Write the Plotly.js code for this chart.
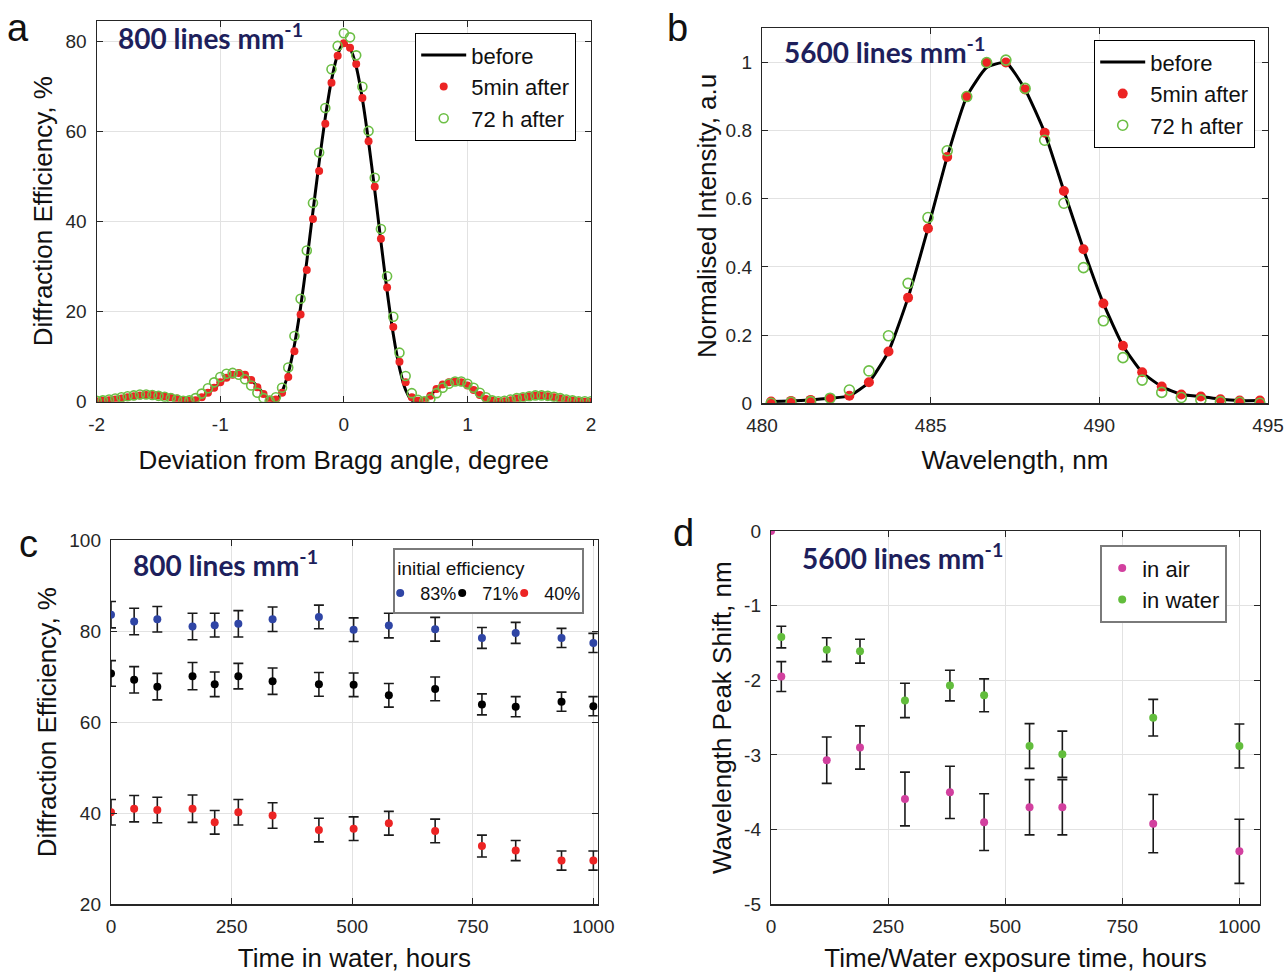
<!DOCTYPE html>
<html>
<head>
<meta charset="utf-8">
<script src="https://cdn.plot.ly/plotly-3.0.1.min.js"></script>
<style>
  html, body { margin: 0; padding: 0; background: #fff; }
  #chart { width: 1288px; height: 976px; }
</style>
</head>
<body>
<div id="chart"></div>
<script>
// ---------- Panel a: diffraction efficiency vs deviation from Bragg angle ----------
const angleDeg = [
  -2.00,-1.95,-1.90,-1.85,-1.80,-1.75,-1.70,-1.65,-1.60,-1.55,-1.50,-1.45,-1.40,-1.35,-1.30,-1.25,
  -1.20,-1.15,-1.10,-1.05,-1.00,-0.95,-0.90,-0.85,-0.80,-0.75,-0.70,-0.65,-0.60,-0.55,-0.50,-0.45,
  -0.40,-0.35,-0.30,-0.25,-0.20,-0.15,-0.10,-0.05,0.00,0.05,0.10,0.15,0.20,0.25,0.30,0.35,
  0.40,0.45,0.50,0.55,0.60,0.65,0.70,0.75,0.80,0.85,0.90,0.95,1.00,1.05,1.10,1.15,
  1.20,1.25,1.30,1.35,1.40,1.45,1.50,1.55,1.60,1.65,1.70,1.75,1.80,1.85,1.90,1.95,2.00
];
const effBefore = [
  0.1,0.2,0.3,0.5,0.7,0.9,1.1,1.3,1.4,1.4,1.3,1.1,0.9,0.6,0.3,0.1,
  0.3,0.9,1.9,3.0,4.2,5.2,5.9,6.2,5.9,4.9,3.4,1.8,0.5,0.3,2.3,6.3,
  12.6,21.0,31.2,42.3,53.2,63.2,71.5,77.2,79.8,78.6,74.5,67.3,57.8,47.0,35.6,24.6,
  15.0,7.5,2.6,0.3,0.1,0.5,1.5,2.7,3.7,4.3,4.4,4.1,3.4,2.5,1.5,0.7,
  0.2,0.0,0.1,0.3,0.6,0.9,1.1,1.2,1.2,1.1,0.9,0.6,0.4,0.2,0.1,0.0,0.0
];
const eff5min = [
  0.1,0.2,0.3,0.5,0.7,1.0,1.2,1.4,1.5,1.5,1.4,1.2,1.0,0.7,0.4,0.2,
  0.3,1.0,2.0,3.1,4.3,5.3,6.0,6.4,6.0,4.8,3.2,1.7,0.5,0.5,2.0,5.5,
  11.2,19.4,29.3,40.6,51.3,61.8,70.9,76.9,79.7,78.7,75.1,67.5,57.9,47.8,36.2,25.4,
  16.6,8.9,4.3,1.0,0.2,0.2,1.3,2.8,3.8,4.3,4.5,4.3,3.6,2.6,1.5,0.6,
  0.2,0.0,0.1,0.3,0.7,1.0,1.2,1.3,1.3,1.2,1.0,0.7,0.4,0.2,0.1,0.0,0.0
];
const eff72h = [
  0.2,0.3,0.5,0.7,1.0,1.2,1.4,1.6,1.6,1.5,1.3,1.1,0.8,0.5,0.2,0.3,
  0.8,1.8,3.0,4.3,5.5,6.2,6.4,6.0,5.0,3.6,2.0,0.8,0.2,1.0,3.1,7.6,
  14.6,22.9,33.6,44.2,55.4,65.3,73.9,79.1,81.9,81.0,77.0,70.0,60.2,49.8,38.4,27.9,
  18.9,10.9,5.7,1.9,0.4,0.1,0.6,1.9,3.1,4.0,4.5,4.5,4.0,3.1,2.0,1.0,
  0.3,0.1,0.2,0.5,0.8,1.0,1.2,1.4,1.4,1.3,1.1,0.8,0.5,0.3,0.1,0.1,0.1
];
const aTickVals = [-2, -1, 0, 1, 2];
const aTickText = ['-2', '-1', '0', '1', '2'];

// ---------- Panel b: normalised intensity vs wavelength ----------
const wavelengthNm = [
  480.27,480.86,481.44,482.02,482.59,483.17,483.75,484.33,484.92,485.49,486.07,486.66,487.23,
  487.80,488.38,488.95,489.53,490.12,490.70,491.27,491.85,492.43,493.01,493.59,494.16,494.76
];
const intBefore = [
  0.005,0.007,0.010,0.015,0.022,0.062,0.152,0.310,0.513,0.723,0.900,0.985,1.000,
  0.921,0.794,0.623,0.452,0.293,0.169,0.091,0.049,0.026,0.020,0.012,0.008,0.008
];
const int5min = [
  0.005,0.007,0.010,0.015,0.022,0.062,0.152,0.310,0.513,0.723,0.900,0.999,1.000,
  0.921,0.794,0.623,0.452,0.293,0.169,0.091,0.049,0.026,0.020,0.012,0.008,0.008
];
const int72h = [
  0.000,0.003,0.005,0.015,0.039,0.095,0.198,0.352,0.545,0.741,0.900,1.000,1.007,
  0.924,0.772,0.587,0.398,0.242,0.134,0.068,0.032,0.017,0.010,0.005,0.003,0.000
];

// ---------- Panel c: diffraction efficiency vs time in water ----------
const timeC = [0, 48, 96, 169, 215, 264, 335, 431, 503, 576, 672, 769, 839, 934, 1000];
const eff83 = [83.6,82.1,82.6,81.0,81.3,81.6,82.6,83.1,80.3,81.2,80.4,78.5,79.6,78.5,77.4];
const err83 = [2.9,2.9,2.8,2.9,2.6,2.9,2.7,2.6,2.6,2.7,2.6,2.3,2.3,2.1,2.1];
const eff71 = [70.7,69.3,67.8,70.1,68.3,70.1,69.0,68.3,68.2,65.9,67.3,63.9,63.4,64.5,63.5];
const err71 = [2.8,2.9,2.9,3.0,2.7,2.8,2.9,2.6,2.6,2.6,2.6,2.3,2.2,2.1,2.1];
const eff40 = [40.2,41.0,40.7,41.0,38.0,40.2,39.5,36.3,36.6,37.8,36.1,32.8,31.8,29.6,29.6];
const err40 = [2.8,2.9,2.8,3.0,2.6,2.8,2.8,2.6,2.6,2.6,2.6,2.4,2.2,2.1,2.1];

// ---------- Panel d: wavelength peak shift vs exposure time ----------
const timeAir = [0, 22, 119, 190, 286, 382, 455, 552, 622, 816, 1000];
const shiftAir = [0, -1.95, -3.07, -2.90, -3.59, -3.50, -3.90, -3.70, -3.70, -3.92, -4.29];
const errAir = [NaN, 0.20, 0.31, 0.29, 0.36, 0.35, 0.38, 0.37, 0.37, 0.39, 0.43];
const timeWater = [22, 119, 190, 286, 382, 455, 552, 622, 816, 1000];
const shiftWater = [-1.42, -1.59, -1.61, -2.27, -2.07, -2.20, -2.88, -2.99, -2.50, -2.88];
const errWater = [0.145, 0.16, 0.16, 0.23, 0.205, 0.22, 0.30, 0.31, 0.245, 0.295];
const dTickVals = [-5, -4, -3, -2, -1, 0];
const dTickText = ['-5', '-4', '-3', '-2', '-1', '0'];

// ---------- styling ----------
const FONT = 'Liberation Sans, Arial, Helvetica, sans-serif';
const NOTE_FONT = 'Lato, Open Sans, sans-serif';
const RED = '#ec2424';
const GREEN = '#6cbf45';
const BLUE = '#2f45a5';
const MAGENTA = '#d2409f';
const WGREEN = '#62bd3c';
const NAVY = '#1e1f5c';
const W = 1288, H = 976;
const px = v => v / W;
const py = v => 1 - v / H;

function axisStyle(extra) {
  return Object.assign({
    showline: true, linecolor: '#262626', linewidth: 1.2, mirror: 'ticks',
    ticks: 'inside', ticklen: 6, tickwidth: 1, tickcolor: '#262626',
    showgrid: true, gridcolor: '#e2e2e2', gridwidth: 1, zeroline: false,
    tickfont: { family: FONT, size: 19, color: '#262626' },
    ticklabelstandoff: 5,
    fixedrange: true
  }, extra);
}
function ttl(text, standoff) {
  return { text: text, font: { family: FONT, size: 26, color: '#111' }, standoff: standoff };
}

const errStyle = arr => ({ type: 'data', array: arr, visible: true, color: '#1a1a1a', thickness: 1.6, width: 5 });

const traces = [
  // panel a
  { x: angleDeg, y: effBefore, xaxis: 'x', yaxis: 'y', type: 'scatter', mode: 'lines',
    name: 'before', line: { color: '#000', width: 3, shape: 'spline', smoothing: 0.6 }, legend: 'legend' },
  { x: angleDeg, y: eff5min, xaxis: 'x', yaxis: 'y', type: 'scatter', mode: 'markers',
    name: '5min after', marker: { color: RED, size: 8 }, legend: 'legend' },
  { x: angleDeg, y: eff72h, xaxis: 'x', yaxis: 'y', type: 'scatter', mode: 'markers',
    name: '72 h after', marker: { symbol: 'circle-open', color: GREEN, size: 9, line: { width: 1.6, color: GREEN } }, legend: 'legend' },
  // panel b
  { x: wavelengthNm, y: intBefore, xaxis: 'x2', yaxis: 'y2', type: 'scatter', mode: 'lines',
    name: 'before', line: { color: '#000', width: 3, shape: 'spline', smoothing: 0.5 }, legend: 'legend2' },
  { x: wavelengthNm, y: int5min, xaxis: 'x2', yaxis: 'y2', type: 'scatter', mode: 'markers',
    name: '5min after', marker: { color: RED, size: 10 }, legend: 'legend2' },
  { x: wavelengthNm, y: int72h, xaxis: 'x2', yaxis: 'y2', type: 'scatter', mode: 'markers',
    name: '72 h after', marker: { symbol: 'circle-open', color: GREEN, size: 10, line: { width: 1.6, color: GREEN } }, legend: 'legend2' },
  // panel c
  { x: timeC, y: eff83, error_y: errStyle(err83), xaxis: 'x3', yaxis: 'y3', type: 'scatter', mode: 'markers',
    name: '83%', marker: { color: BLUE, size: 8 }, legend: 'legend3' },
  { x: timeC, y: eff71, error_y: errStyle(err71), xaxis: 'x3', yaxis: 'y3', type: 'scatter', mode: 'markers',
    name: '71%', marker: { color: '#000', size: 8 }, legend: 'legend3' },
  { x: timeC, y: eff40, error_y: errStyle(err40), xaxis: 'x3', yaxis: 'y3', type: 'scatter', mode: 'markers',
    name: '40%', marker: { color: RED, size: 8 }, legend: 'legend3' },
  // panel d
  { x: timeAir, y: shiftAir, error_y: errStyle(errAir), xaxis: 'x4', yaxis: 'y4', type: 'scatter', mode: 'markers',
    name: 'in air', marker: { color: MAGENTA, size: 8 }, legend: 'legend4' },
  { x: timeWater, y: shiftWater, error_y: errStyle(errWater), xaxis: 'x4', yaxis: 'y4', type: 'scatter', mode: 'markers',
    name: 'in water', marker: { color: WGREEN, size: 8 }, legend: 'legend4' }
];

const legendBase = {
  bgcolor: '#fff', bordercolor: '#000', borderwidth: 1.2,
  font: { family: FONT, size: 22, color: '#111' },
  xanchor: 'left', yanchor: 'top', tracegroupgap: 0
};

const layout = {
  width: W, height: H,
  margin: { l: 0, r: 0, t: 0, b: 0 },
  paper_bgcolor: '#fff', plot_bgcolor: '#fff',
  font: { family: FONT, color: '#111' },
  showlegend: true,
  xaxis: axisStyle({ domain: [px(96.7), px(591)], range: [-2, 2], anchor: 'y',
    tickvals: aTickVals, ticktext: aTickText, title: ttl('Deviation from Bragg angle, degree', 17) }),
  yaxis: axisStyle({ domain: [py(401.7), py(20.7)], range: [0, 84.7], anchor: 'x', dtick: 20,
    title: ttl('Diffraction Efficiency, %', 5) }),
  xaxis2: axisStyle({ domain: [px(762), px(1268)], range: [480, 495], anchor: 'y2', dtick: 5,
    title: ttl('Wavelength, nm', 15) }),
  yaxis2: axisStyle({ domain: [py(403.3), py(28.4)], range: [0, 1.1], anchor: 'x2', dtick: 0.2,
    title: ttl('Normalised Intensity, a.u', 1) }),
  xaxis3: axisStyle({ domain: [px(111), px(597.7)], range: [0, 1009], anchor: 'y3', dtick: 250,
    title: ttl('Time in water, hours', 12) }),
  yaxis3: axisStyle({ domain: [py(904.3), py(540)], range: [20, 100], anchor: 'x3', dtick: 20,
    title: ttl('Diffraction Efficiency, %', 5) }),
  xaxis4: axisStyle({ domain: [px(771), px(1260)], range: [0, 1044], anchor: 'y4', dtick: 250,
    title: ttl('Time/Water exposure time, hours', 12) }),
  yaxis4: axisStyle({ domain: [py(904.3), py(531)], range: [-5, 0], anchor: 'x4',
    tickvals: dTickVals, ticktext: dTickText, title: ttl('Wavelength Peak Shift, nm', 5) }),
  legend: Object.assign({}, legendBase, { x: px(415), y: py(33), itemwidth: 45 }),
  legend2: Object.assign({}, legendBase, { x: px(1094), y: py(40), itemwidth: 45 }),
  legend3: Object.assign({}, legendBase, {
    x: px(393), y: py(548), orientation: 'h', bordercolor: '#7a7a7a', borderwidth: 2.2,
    itemwidth: 30, entrywidth: 32, indentation: -15, font: { family: FONT, size: 18, color: '#111' },
    title: { text: 'initial efficiency', side: 'top', font: { family: FONT, size: 19, color: '#111' } }
  }),
  legend4: Object.assign({}, legendBase, { x: px(1100), y: py(545), bordercolor: '#7a7a7a', borderwidth: 2.2,
    itemwidth: 30, entrywidth: 100 }),
  annotations: [
    { text: 'a', x: px(18), y: py(28), xref: 'paper', yref: 'paper', showarrow: false, xanchor: 'center', yanchor: 'middle',
      font: { family: FONT, size: 38, color: '#111' } },
    { text: 'b', x: px(677), y: py(28), xref: 'paper', yref: 'paper', showarrow: false, xanchor: 'center', yanchor: 'middle',
      font: { family: FONT, size: 38, color: '#111' } },
    { text: 'c', x: px(28), y: py(544), xref: 'paper', yref: 'paper', showarrow: false, xanchor: 'center', yanchor: 'middle',
      font: { family: FONT, size: 38, color: '#111' } },
    { text: 'd', x: px(683), y: py(533), xref: 'paper', yref: 'paper', showarrow: false, xanchor: 'center', yanchor: 'middle',
      font: { family: FONT, size: 38, color: '#111' } },
    { text: '<b>800 lines mm<sup>-1</sup></b>', x: px(116), y: py(37), xref: 'paper', yref: 'paper', showarrow: false,
      xanchor: 'left', yanchor: 'middle', font: { family: NOTE_FONT, size: 28, color: NAVY } },
    { text: '<b>5600 lines mm<sup>-1</sup></b>', x: px(782), y: py(50), xref: 'paper', yref: 'paper', showarrow: false,
      xanchor: 'left', yanchor: 'middle', font: { family: NOTE_FONT, size: 28, color: NAVY } },
    { text: '<b>800 lines mm<sup>-1</sup></b>', x: px(131), y: py(563), xref: 'paper', yref: 'paper', showarrow: false,
      xanchor: 'left', yanchor: 'middle', font: { family: NOTE_FONT, size: 28, color: NAVY } },
    { text: '<b>5600 lines mm<sup>-1</sup></b>', x: px(800), y: py(556), xref: 'paper', yref: 'paper', showarrow: false,
      xanchor: 'left', yanchor: 'middle', font: { family: NOTE_FONT, size: 28, color: NAVY } }
  ]
};

Plotly.newPlot('chart', traces, layout, { displayModeBar: false, staticPlot: true });
</script>
</body>
</html>
